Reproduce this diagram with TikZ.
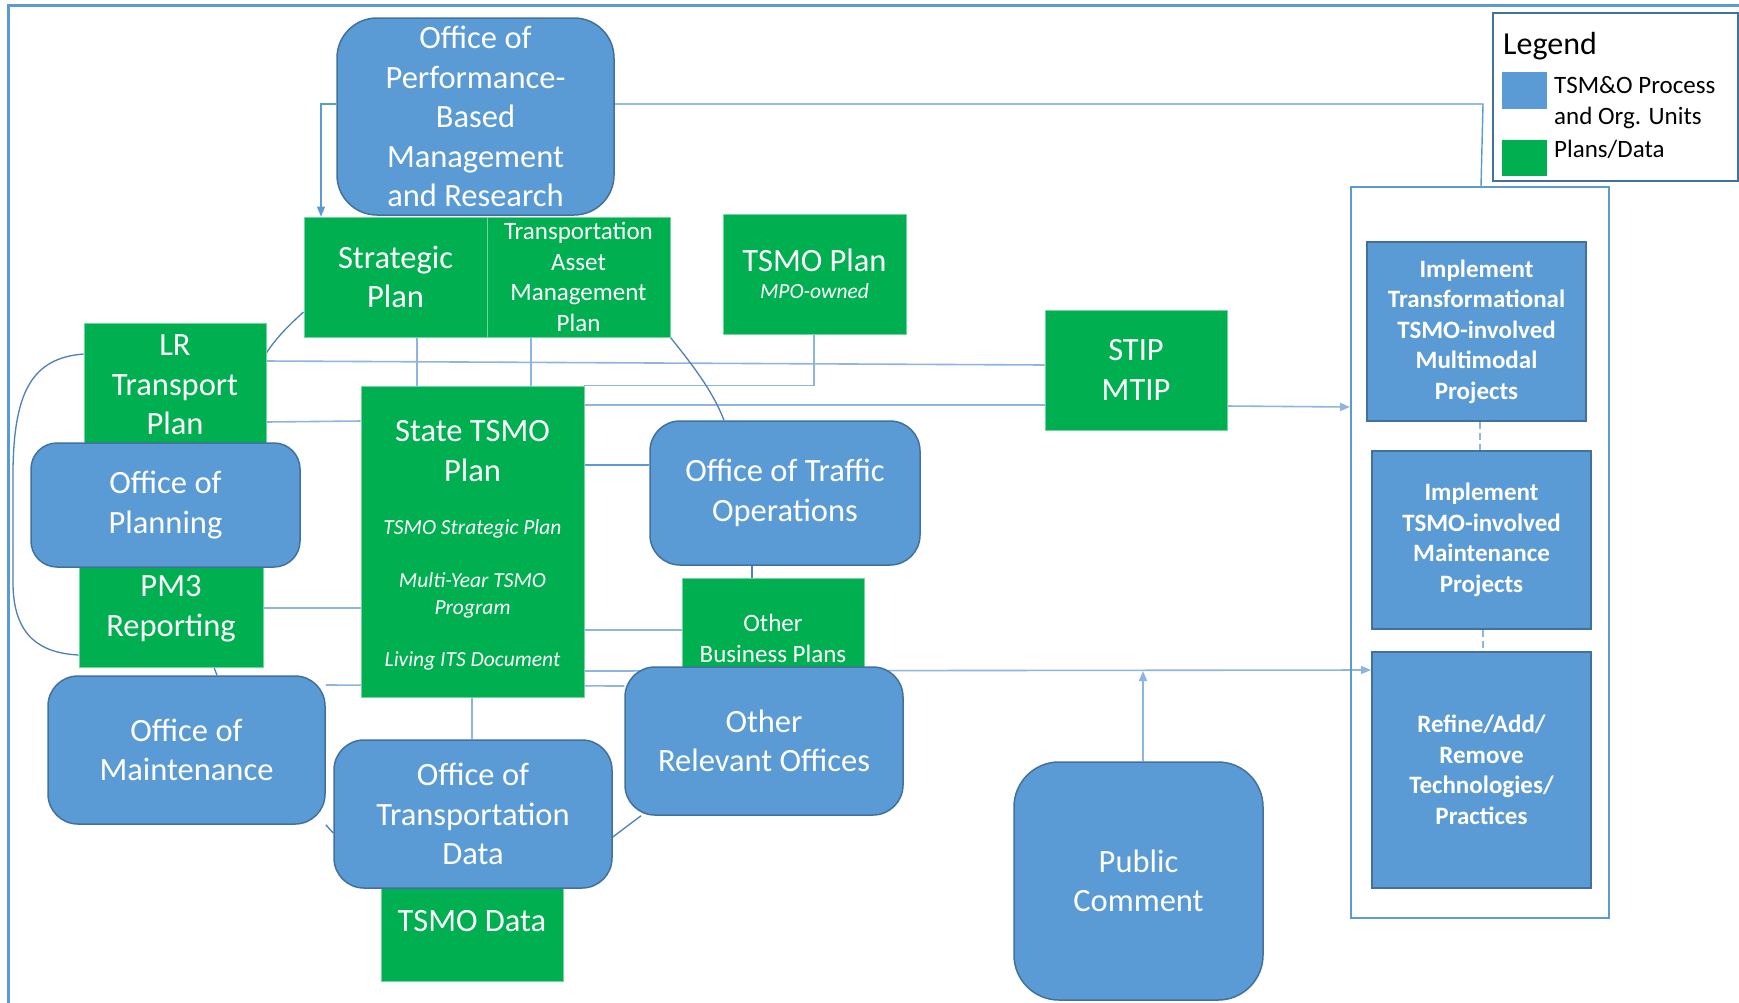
\documentclass[tikz,border=0pt]{standalone}
\usepackage{fontspec}
\setmainfont{Carlito}
\usetikzlibrary{arrows.meta,backgrounds}

\definecolor{unitfill}{HTML}{5B9BD5}
\definecolor{unitedge}{HTML}{41719C}
\definecolor{planfill}{HTML}{00B050}
\definecolor{linklight}{HTML}{8FB4E0}
\definecolor{linkdark}{HTML}{4F7FB8}

\newcommand\fsBig{\fontsize{32.5}{39.5}\selectfont}
\newcommand\fsMid{\fontsize{25}{30.5}\selectfont}
\newcommand\fsSmall{\fontsize{21.5}{27}\selectfont}

\begin{document}
\begin{tikzpicture}[x=1pt,y=-1pt,
  orgbox/.style={rounded corners=#1, fill=unitfill, draw=unitedge, line width=1.5pt,
    text=white, align=center, inner sep=0pt, font=\fsBig},
  orgbox/.default=30pt,
  planbox/.style={fill=planfill, draw=planfill!55!white, line width=0.8pt,
    text=white, align=center, inner sep=0pt, font=\fsBig},
  taskbox/.style={fill=unitfill, draw=unitedge, line width=2pt,
    text=white, align=center, inner sep=0pt, font=\fsMid\bfseries},
  plaintext/.style={text=white, inner sep=0pt, align=center},
  link/.style={draw=linklight, line width=1.6pt},
  darklink/.style={draw=linkdark, line width=1.3pt},
  withtip/.style={-{Triangle[length=10pt,width=8pt]}},
  stepdash/.style={dash pattern=on 7pt off 4pt},
]
\useasboundingbox (0,0) rectangle (1739,1002);

% ---------- container of implementation steps ----------
\node[draw=unitfill, line width=2pt, minimum width=258pt, minimum height=731pt, inner sep=0pt] (cont) at (1480,552.5) {};

% ---------- plans / data ----------
\node[planbox, minimum width=183pt, minimum height=120pt] (sp) at (395.5,277) {Strategic\\Plan};
\node[planbox, font=\fsMid, minimum width=183pt, minimum height=120pt] (tamp) at (578.5,277) {Transportation\\Asset\\Management\\Plan};
\node[planbox, minimum width=183pt, minimum height=120pt] (tsmop) at (814.5,274) {TSMO Plan\\[-12pt]{\fsSmall\itshape MPO-owned}};
\node[planbox, minimum width=182pt, minimum height=120pt] (stip) at (1136,370) {STIP\\MTIP};
\node[planbox, minimum width=182pt, minimum height=124pt] (lr) at (175,385) {LR\\Transport\\Plan};
\node[planbox, minimum width=184pt, minimum height=117pt] (pm3) at (171,608.5) {PM3\\Reporting};
\node[planbox, minimum width=223pt, minimum height=311pt] (stsmo) at (472.5,541.5) {};
\node[plaintext, font=\fsBig] (stsmoTitle) at (472.5,451) {State TSMO\\Plan};
\node[plaintext, font=\fsSmall\itshape] (stsmoA) at (472.5,529) {TSMO Strategic Plan};
\node[plaintext, font=\fsSmall\itshape] (stsmoB) at (472.5,595) {Multi-Year TSMO\\Program};
\node[plaintext, font=\fsSmall\itshape] (stsmoC) at (472.5,661) {Living ITS Document};
\node[planbox, minimum width=182pt, minimum height=120pt] (tdata) at (472,921) {TSMO Data};
\node[planbox, font=\fsMid, minimum width=182pt, minimum height=121pt] (obp) at (773,638.5) {Other\\Business Plans};

% ---------- process and organisational units ----------
\node[orgbox=40pt, minimum width=277pt, minimum height=197pt] (opbmr) at (475.5,116.5) {Office of\\Performance-\\Based\\Management\\and Research};
\node[orgbox=26pt, minimum width=269pt, minimum height=124pt] (plan) at (165.5,505) {Office of\\Planning};
\node[orgbox, minimum width=277pt, minimum height=148pt] (maint) at (186.5,750) {Office of\\Maintenance};
\node[orgbox, minimum width=278pt, minimum height=148pt] (otd) at (473,814) {Office of\\Transportation\\Data};
\node[orgbox, minimum width=270pt, minimum height=144pt] (oto) at (785,493) {Office of Traffic\\Operations};
\node[orgbox, minimum width=278pt, minimum height=148pt] (oro) at (764,741) {Other\\Relevant Offices};
\node[orgbox=45pt, minimum width=249pt, minimum height=238pt] (pc) at (1138.5,881) {Public\\Comment};

% ---------- implementation steps ----------
\node[taskbox, minimum width=219pt, minimum height=179pt] (imp1) at (1476.5,331.5) {Implement\\Transformational\\TSMO-involved\\Multimodal\\Projects};
\node[taskbox, minimum width=219pt, minimum height=178pt] (imp2) at (1481.5,540) {Implement\\TSMO-involved\\Maintenance\\Projects};
\node[taskbox, minimum width=219pt, minimum height=236pt] (refine) at (1481.5,770) {Refine/Add/\\Remove\\Technologies/\\Practices};

% ---------- legend ----------
\node[fill=white, draw=unitedge, line width=2pt, minimum width=245pt, minimum height=168pt, inner sep=0pt] (legend) at (1615.5,97) {};
\node[anchor=west, inner sep=0pt, font=\fontsize{32}{38}\selectfont] (legendTitle) at (1503,46) {Legend};
\node[fill=unitfill, minimum width=45pt, minimum height=37pt, inner sep=0pt] (swUnit) at (1524.5,90.5) {};
\node[fill=planfill, minimum width=45pt, minimum height=36pt, inner sep=0pt] (swPlan) at (1524.5,158) {};
\node[anchor=west, inner sep=0pt, align=left, font=\fsMid] (legUnit) at (1554,102.5) {TSM\&O Process\\and Org. Units};
\node[anchor=west, inner sep=0pt, font=\fsMid] (legPlan) at (1554,149) {Plans/Data};

\coordinate (pctip) at (1143,671);

% ---------- connectors ----------
\begin{scope}[on background layer]
  \fill[white] (0,0) rectangle (1739,1002);
  \draw[unitfill, line width=3pt] (8,1010) -- (8,5) -- (1745,5);

  \draw[link, draw=unitfill, line width=1.4pt, withtip] (opbmr.west |- 0,104) -| (sp.north -| 321,0);
  \draw[link, draw=unitfill, line width=1.4pt] (opbmr.east |- 0,104) -- (1483,104) -- (cont.north -| 1481,0);

  \draw[darklink] (sp.west |- 0,312) .. controls (290,324) and (276,338) .. (lr.east |- 0,353);
  \draw[darklink] (lr.west |- 0,354) .. controls (32,358) and (14,392) .. (13,470)
        -- (13,585) .. controls (14,636) and (40,653) .. (pm3.west |- 0,655);

  \draw[link] (lr.east |- 0,361) -- (stip.west |- 0,365);
  \draw[link] (sp.south -| 417,0) -- (stsmo.north -| 417,0);
  \draw[link] (tamp.south -| 531,0) -- (stsmo.north -| 531,0);
  \draw[link] (tsmop.south -| 814,0) |- (stsmo.north east);
  \draw[link] (lr.east |- 0,422) -- (stsmo.west |- 0,421);
  \draw[link] (stsmo.east |- 0,405) -- (stip.west |- 0,405);
  \draw[link, withtip] (stip.east |- 0,406) -- (cont.west |- 0,407);

  \draw[darklink] (tamp.south east) .. controls (695,368) and (713,392) .. (oto.north -| 724,0);
  \draw[draw=unitfill, line width=2.6pt] (stsmo.east |- 0,465) -- (oto.west |- 0,465);
  \draw[darklink] (oto.south -| 752,0) -- (obp.north -| 752,0);

  \draw[link] (pm3.east |- 0,608) -- (stsmo.west |- 0,608);
  \draw[link] (stsmo.east |- 0,630) -- (obp.west |- 0,630);
  \draw[link, withtip] (stsmo.east |- 0,671) -- (refine.west |- 0,670);
  \draw[link, withtip] (pctip |- pc.north) -- (pctip);
  \draw[link] (maint.east |- 0,685) -- (oro.west |- 0,686);

  \draw[darklink] (pm3.south -| 214,0) -- (maint.north -| 217,0);
  \draw[darklink] (maint.south east) -- (otd.west |- 0,833);
  \draw[link] (stsmo.south -| 472,0) -- (otd.north -| 472,0);
  \draw[darklink] (otd.east |- 0,837) -- (oro.south -| 641,0);

  \draw[link, stepdash] (imp1.south -| 1480,0) -- (imp2.north -| 1480,0);
  \draw[link, stepdash] (imp2.south -| 1483,0) -- (refine.north -| 1483,0);
\end{scope}
\end{tikzpicture}
\end{document}
